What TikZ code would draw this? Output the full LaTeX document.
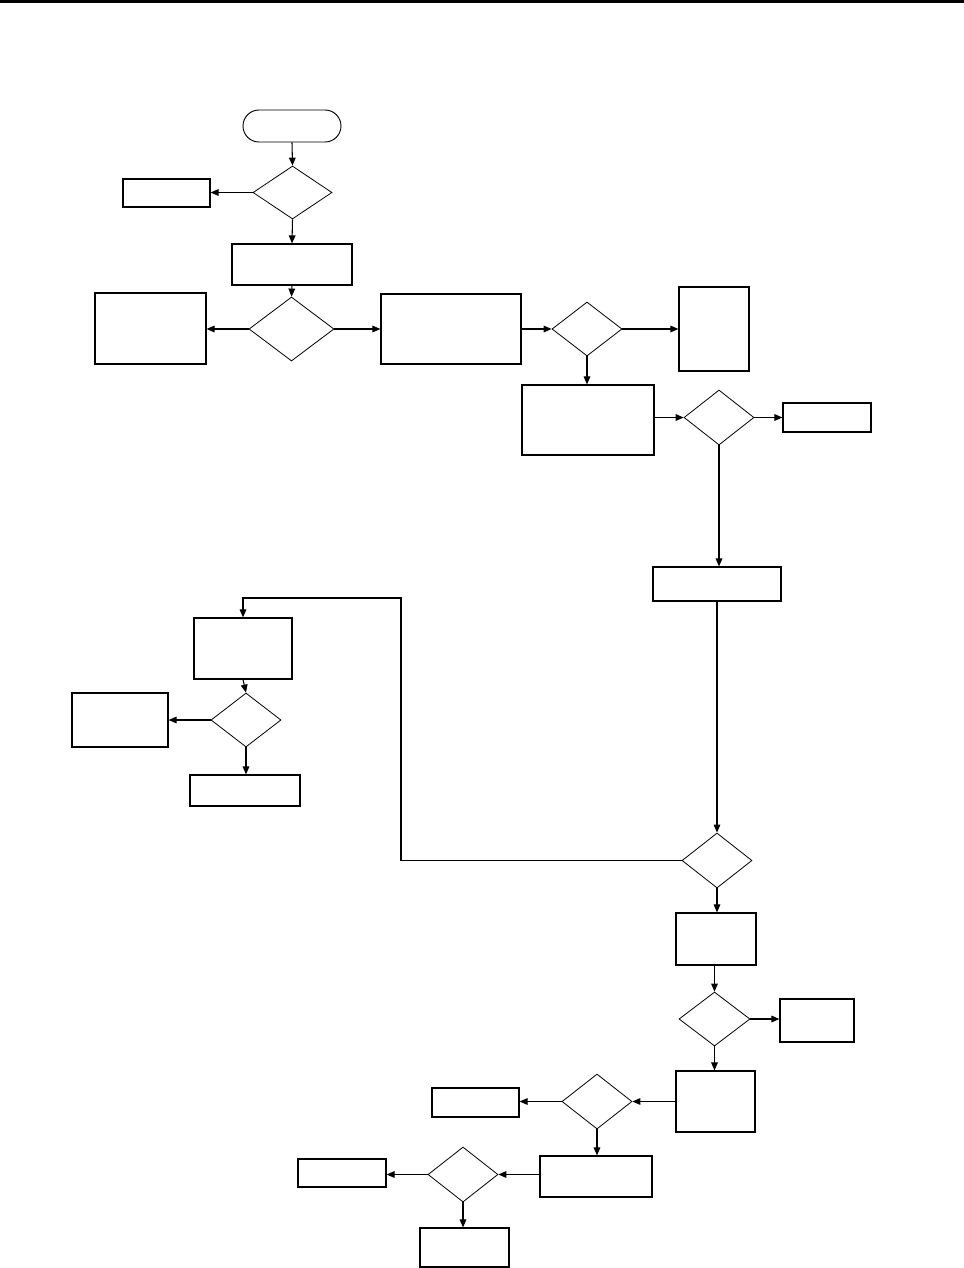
\documentclass[tikz,border=0pt]{standalone}
\usetikzlibrary{shapes.geometric,arrows.meta}
\newcommand\rbox[5]{\node[boxst, minimum width={(#4-#2)*0.75pt}, minimum height={(#5-#3)*0.75pt}] (#1) at ({(#2+#4)/2},{(#3+#5)/2}) {};}
\newcommand\dia[5]{\node[diast, minimum width={(#4-#2)*0.75pt}, minimum height={(#5-#3)*0.75pt}] (#1) at ({(#2+#4)/2},{(#3+#5)/2}) {};}
\tikzset{
  boxst/.style={draw, rectangle, inner sep=0pt, line width=0.9pt},
  diast/.style={draw, diamond, inner sep=0pt, line width=0.6pt},
  termst/.style={draw, rectangle, rounded corners=12pt, inner sep=0pt, line width=0.7pt},
  arr/.style={-{Triangle[length=6pt,width=5pt]}, line width=0.8pt},
}
\begin{document}
\begin{tikzpicture}[x=0.75pt,y=-0.75pt]
\useasboundingbox (0,0) rectangle (964,1268);
\fill (0,0) rectangle (964,3);
% start
\node[termst, minimum width={98*0.75pt}, minimum height={32*0.75pt}] (st) at (292,126) {};
\dia{d1}{253}{166}{332}{219}
\rbox{l1}{123}{179}{210}{207}
\rbox{b1}{232}{244}{352}{285}
\dia{d2}{249}{297}{334}{361}
\rbox{l2}{95}{293}{206}{364}
\rbox{b2}{381}{294}{521}{364}
\dia{d3}{552}{302}{622}{356}
\rbox{r3}{679}{287}{749}{371}
\rbox{b3}{522}{385}{654}{455}
\dia{d4}{684}{390}{754}{445}
\rbox{r4}{783}{403}{871}{432}
\rbox{b4}{653}{567}{781}{601}
\dia{d5}{682}{833}{752}{888}
\rbox{b5}{194}{618}{292}{679}
\dia{d6}{211}{693}{281}{747}
\rbox{l6}{72}{693}{168}{747}
\rbox{b6}{190}{775}{300}{806}
\rbox{b7}{676}{913}{756}{965}
\dia{d7}{679}{992}{750}{1046}
\rbox{r7}{780}{999}{854}{1042}
\rbox{b8}{676}{1071}{755}{1132}
\dia{d8}{562}{1074}{632}{1129}
\rbox{l8}{432}{1088}{519}{1117}
\rbox{b9}{540}{1156}{652}{1197}
\dia{d9}{428}{1147}{498}{1202}
\rbox{l9}{298}{1159}{386}{1187}
\rbox{b10}{420}{1228}{509}{1267}
\coordinate (lp) at (401,598);
% connectors
\draw[arr] (st.south) -- (d1.north);
\draw[arr] (d1.west) -- (l1.east |- d1.west);
\draw[arr] (d1.south) -- (b1.north);
\draw[arr] (b1.south) -- (d2.north);
\draw[arr] (d2.west) -- (l2.east |- d2.west);
\draw[arr] (d2.east) -- (b2.west |- d2.east);
\draw[arr] (b2.east |- d3.west) -- (d3.west);
\draw[arr] (d3.east) -- (r3.west |- d3.east);
\draw[arr] (d3.south) -- (d3.south |- b3.north);
\draw[arr] (b3.east |- d4.west) -- (d4.west);
\draw[arr] (d4.east) -- (r4.west |- d4.east);
\draw[arr] (d4.south) -- (d4.south |- b4.north);
\draw[arr] (d5.north |- b4.south) -- (d5.north);
\draw[arr] (d5.west) -| (lp) -| (b5.north);
\draw[arr] (b5.south) -- (d6.north);
\draw[arr] (d6.west) -- (l6.east |- d6.west);
\draw[arr] (d6.south) -- (d6.south |- b6.north);
\draw[arr] (d5.south) -- (d5.south |- b7.north);
\draw[arr] (d7.north |- b7.south) -- (d7.north);
\draw[arr] (d7.east) -- (r7.west |- d7.east);
\draw[arr] (d7.south) -- (d7.south |- b8.north);
\draw[arr] (b8.west |- d8.east) -- (d8.east);
\draw[arr] (d8.west) -- (l8.east |- d8.west);
\draw[arr] (d8.south) -- (d8.south |- b9.north);
\draw[arr] (b9.west |- d9.east) -- (d9.east);
\draw[arr] (d9.west) -- (l9.east |- d9.west);
\draw[arr] (d9.south) -- (d9.south |- b10.north);
\end{tikzpicture}
\end{document}
